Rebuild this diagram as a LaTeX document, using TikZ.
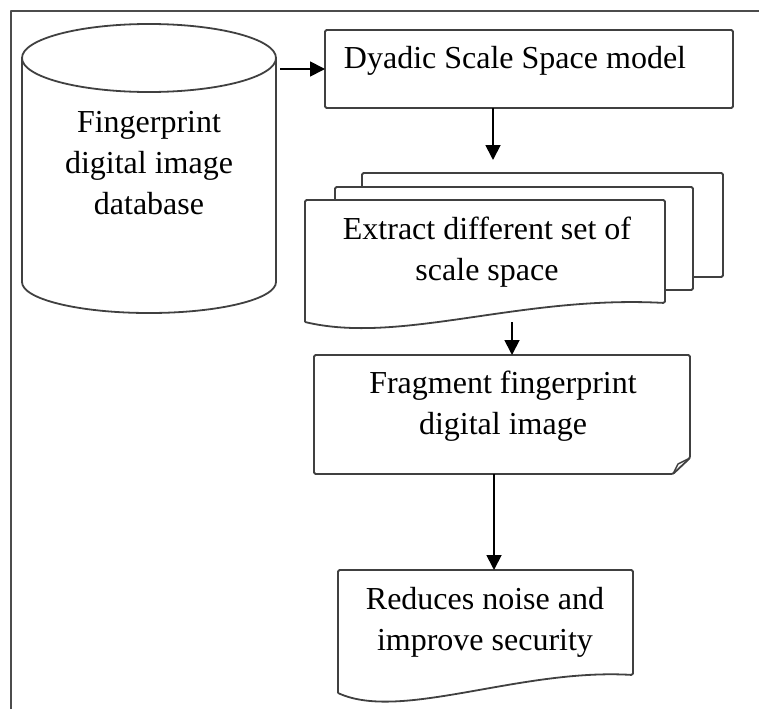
\documentclass[tikz,border=0pt]{standalone}
\usepackage{fontspec}
\setmainfont{Liberation Serif}
\usetikzlibrary{arrows.meta}

\begin{document}
\begin{tikzpicture}[x=1pt, y=-1pt, line join=round,
  ln/.style={line width=1.8pt, black!75},
  sheet/.style={ln, fill=white, rounded corners=1.5pt},
  arr/.style={line width=1.8pt, black, -{Triangle[length=15pt, width=15pt]}},
  txt/.style={font=\fontsize{32}{41}\selectfont, align=center, inner sep=0pt},
  shapebox/.style={inner sep=0pt, outer sep=0pt}]
\useasboundingbox (0,0) rectangle (759,709);
% outer frame
\draw[line width=2.8pt, black!70] (11,709) -- (11,11) -- (759,11);

% database
\draw[ln] (22,58) -- (22,282) arc[start angle=180, end angle=360, x radius=127pt, y radius=31pt] -- (276,58);
\draw[ln] (149,58) ellipse [x radius=127pt, y radius=34pt];
\node[txt] (db) at (149,163) {Fingerprint\\digital image\\database};
\coordinate (dbout) at (280,69);

% dyadic model
\node[shapebox, draw, ln, rounded corners=1.5pt, minimum width=408pt, minimum height=78pt, anchor=north west] (dyadic) at (325,30) {};
\node[txt] (dyadictext) at (515,61) {Dyadic Scale Space model};
\draw[arr] (dbout) -- (dyadic.west);

% stacked sheets
\coordinate (stacktop) at (493,160);
\draw[arr] (dyadic.south -| stacktop) -- (stacktop);
\draw[sheet] (362,173) rectangle (723,277);
\draw[sheet] (335,187) rectangle (693,290);
\node[shapebox, minimum width=360pt, minimum height=122pt, anchor=north west] (extract) at (305,200) {};
\draw[sheet] (extract.south west) -- (extract.north west) -- (extract.north east) -- ([yshift=19pt]extract.south east)
  .. controls (520,295) and (400,345) .. (extract.south west);
\node[txt] (extracttext) at (487,252) {Extract different set of\\scale space};

% fragment
\node[shapebox, minimum width=376pt, minimum height=119pt, anchor=north west] (fragment) at (314,355) {};
\draw[sheet] (fragment.north west) -- (fragment.north east) -- ([yshift=16pt]fragment.south east)
  -- ([xshift=-17pt]fragment.south east) -- (fragment.south west) -- cycle;
\draw[ln, line width=1.4pt] ([xshift=-17pt]fragment.south east) -- ++(5pt,10pt) -- ([yshift=16pt]fragment.south east);
\node[txt] (fragmenttext) at (503,406) {Fragment fingerprint\\digital image};
\draw[arr] ([xshift=27pt]extract.south) -- ([xshift=10pt]fragment.north);

% reduces
\node[shapebox, minimum width=295pt, minimum height=123pt, anchor=north west] (reduces) at (338,570) {};
\draw[sheet] (reduces.south west) -- (reduces.north west) -- (reduces.north east) -- ([yshift=18pt]reduces.south east)
  .. controls (520,668) and (400,722) .. (reduces.south west);
\node[txt] (reducestext) at (485,622) {Reduces noise and\\improve security};
\draw[arr] ([xshift=-8pt]fragment.south) -- ([xshift=8.5pt]reduces.north);
\end{tikzpicture}
\end{document}
